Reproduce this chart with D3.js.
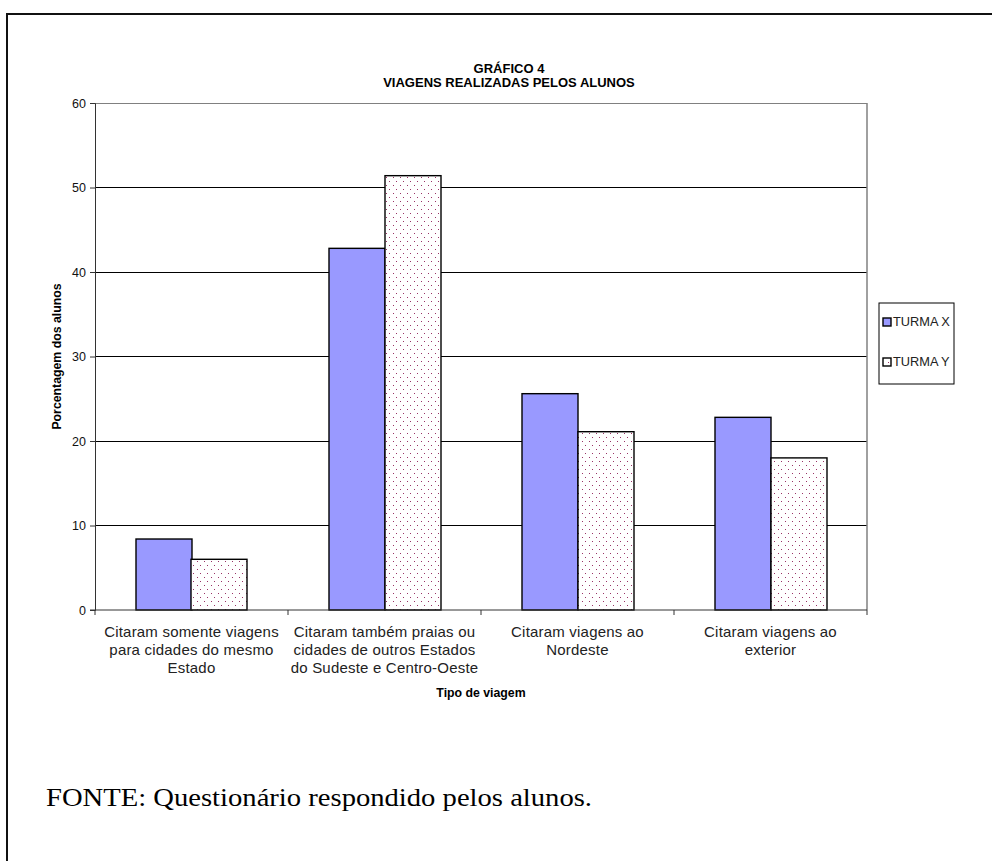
<!DOCTYPE html>
<html>
<head>
<meta charset="utf-8">
<script src="https://cdn.jsdelivr.net/npm/d3@7"></script>
<style>
  html, body { margin: 0; padding: 0; background: #fff; }
  svg { display: block; }
  text { font-family: "Liberation Sans", Arial, sans-serif; fill: #000; }
</style>
</head>
<body>
<svg id="chart" width="992" height="861"></svg>
<script>
// Trip categories (each wrapped into lines as printed under the axis)
const categories = [
  ["Citaram somente viagens", "para cidades do mesmo", "Estado"],
  ["Citaram também praias ou", "cidades de outros Estados", "do Sudeste e Centro-Oeste"],
  ["Citaram viagens ao", "Nordeste"],
  ["Citaram viagens ao", "exterior"]
];
const seriesNames = ["TURMA X", "TURMA Y"];
const turmaX = [8.4, 42.8, 25.6, 22.8];
const turmaY = [6.0, 51.4, 21.1, 18.0];
const yTicks = [0, 10, 20, 30, 40, 50, 60];

const svg = d3.select("#chart");

// Outer frame (left and top edges visible)
svg.append("path")
  .attr("d", "M7,861 V14 H992")
  .attr("fill", "none").attr("stroke", "#111").attr("stroke-width", 2);

const plot = { left: 95, right: 867, top: 103, bottom: 610 };

const x0 = d3.scaleBand()
  .domain(d3.range(categories.length))
  .range([plot.left, plot.right])
  .paddingInner(0.42)
  .paddingOuter(0.21);
const x1 = d3.scaleBand()
  .domain(seriesNames)
  .range([0, x0.bandwidth()]);
const y = d3.scaleLinear().domain([0, 60]).range([plot.bottom, plot.top]);

// Dotted fill used for the second series
const dotColor = "#993366";
const defs = svg.append("defs");
const pat = defs.append("pattern")
  .attr("id", "dots").attr("patternUnits", "userSpaceOnUse")
  .attr("width", 7).attr("height", 8);
pat.append("rect").attr("width", 7).attr("height", 8).attr("fill", "#fff");
[[1, 1], [4, 5]].forEach(([px, py]) => {
  pat.append("rect").attr("x", px).attr("y", py).attr("width", 1).attr("height", 1)
    .attr("fill", dotColor).attr("shape-rendering", "crispEdges");
});

const colors = { "TURMA X": "#9999FF", "TURMA Y": "url(#dots)" };

// Horizontal gridlines
svg.append("g").selectAll("line")
  .data(yTicks.filter(t => t > 0))
  .join("line")
  .attr("x1", plot.left).attr("x2", plot.right)
  .attr("y1", d => y(d)).attr("y2", d => y(d))
  .attr("stroke", d => d === 60 ? "#808080" : "#000").attr("stroke-width", 1)
  .attr("shape-rendering", "crispEdges");

// Right edge of plot area
svg.append("line")
  .attr("x1", plot.right).attr("x2", plot.right)
  .attr("y1", plot.top).attr("y2", plot.bottom)
  .attr("stroke", "#808080").attr("stroke-width", 1.5);

// Bars
const rows = categories.map((c, i) => ({ i, values: [turmaX[i], turmaY[i]] }));
svg.append("g").selectAll("g")
  .data(rows)
  .join("g")
  .selectAll("rect")
  .data(d => d.values.map((v, k) => ({ i: d.i, name: seriesNames[k], v })))
  .join("rect")
  .attr("x", d => Math.round(x0(d.i) + x1(d.name)))
  .attr("width", Math.round(x1.bandwidth()))
  .attr("y", d => y(d.v))
  .attr("height", d => y(0) - y(d.v))
  .attr("fill", d => colors[d.name])
  .attr("stroke", "#000").attr("stroke-width", 1.4);

// Y axis
const yAxis = svg.append("g")
  .attr("transform", `translate(${plot.left},0)`)
  .call(d3.axisLeft(y).tickValues(yTicks).tickSize(5).tickPadding(4));
yAxis.select(".domain").attr("stroke", "#333");
yAxis.selectAll(".tick line").attr("stroke", "#333");
yAxis.selectAll(".tick text")
  .style("font-family", "'Liberation Sans', Arial, sans-serif")
  .style("font-size", "12.5px")
  .style("fill", "#111");

// X axis line with ticks at category boundaries
const boundaries = d3.range(categories.length + 1).map(i => plot.left + i * x0.step());
svg.append("line")
  .attr("x1", plot.left - 5).attr("x2", plot.right)
  .attr("y1", plot.bottom).attr("y2", plot.bottom)
  .attr("stroke", "#333").attr("stroke-width", 1);
svg.append("g").selectAll("line")
  .data(boundaries)
  .join("line")
  .attr("x1", d => d).attr("x2", d => d)
  .attr("y1", plot.bottom).attr("y2", plot.bottom + 5)
  .attr("stroke", "#333");

// Category labels
const labels = svg.append("g").selectAll("text")
  .data(categories)
  .join("text")
  .attr("x", (d, i) => x0(i) + x0.bandwidth() / 2)
  .attr("y", 637)
  .attr("text-anchor", "middle")
  .attr("font-size", 15)
  .attr("letter-spacing", 0.2)
  .style("fill", "#222");
labels.selectAll("tspan")
  .data(d => d)
  .join("tspan")
  .attr("x", function () { return this.parentNode.getAttribute("x"); })
  .attr("dy", (d, k) => k === 0 ? 0 : 18)
  .text(d => d);

// Axis titles
svg.append("text")
  .attr("x", (plot.left + plot.right) / 2).attr("y", 697)
  .attr("text-anchor", "middle").attr("font-size", 12.3).attr("font-weight", "bold")
  .text("Tipo de viagem");
svg.append("text")
  .attr("transform", `translate(61,${(plot.top + plot.bottom) / 2}) rotate(-90)`)
  .attr("text-anchor", "middle").attr("font-size", 12.3).attr("font-weight", "bold")
  .text("Porcentagem dos alunos");

// Chart title
const title = svg.append("text")
  .attr("x", 509).attr("y", 73)
  .attr("text-anchor", "middle").attr("font-size", 13).attr("font-weight", "bold");
title.append("tspan").attr("x", 509).attr("dy", 0).text("GRÁFICO 4");
title.append("tspan").attr("x", 509).attr("dy", 14).text("VIAGENS REALIZADAS PELOS ALUNOS");

// Legend
const legend = svg.append("g").attr("transform", "translate(879,303)");
legend.append("rect")
  .attr("width", 75).attr("height", 81)
  .attr("fill", "#fff").attr("stroke", "#000").attr("stroke-width", 1);
const items = legend.selectAll("g.item")
  .data(seriesNames)
  .join("g")
  .attr("class", "item")
  .attr("transform", (d, i) => `translate(4,${23 + i * 40})`);
items.append("rect")
  .attr("x", 0).attr("y", -8).attr("width", 8).attr("height", 8)
  .attr("fill", d => d === "TURMA X" ? "#9999FF" : "#fff")
  .attr("stroke", "#000").attr("stroke-width", 1.4);
items.filter(d => d === "TURMA Y").append("rect")
  .attr("x", 5).attr("y", -4).attr("width", 1).attr("height", 1).attr("fill", dotColor);
items.append("text")
  .attr("x", 10).attr("y", 0)
  .attr("font-size", 12.8).style("fill", "#222")
  .text(d => d);

// Source note
svg.append("text")
  .attr("x", 46).attr("y", 806)
  .style("font-family", "'Liberation Serif', 'Times New Roman', serif")
  .style("font-size", "26px")
  .attr("textLength", 546)
  .attr("lengthAdjust", "spacingAndGlyphs")
  .text("FONTE: Questionário respondido pelos alunos.");
</script>
</body>
</html>
